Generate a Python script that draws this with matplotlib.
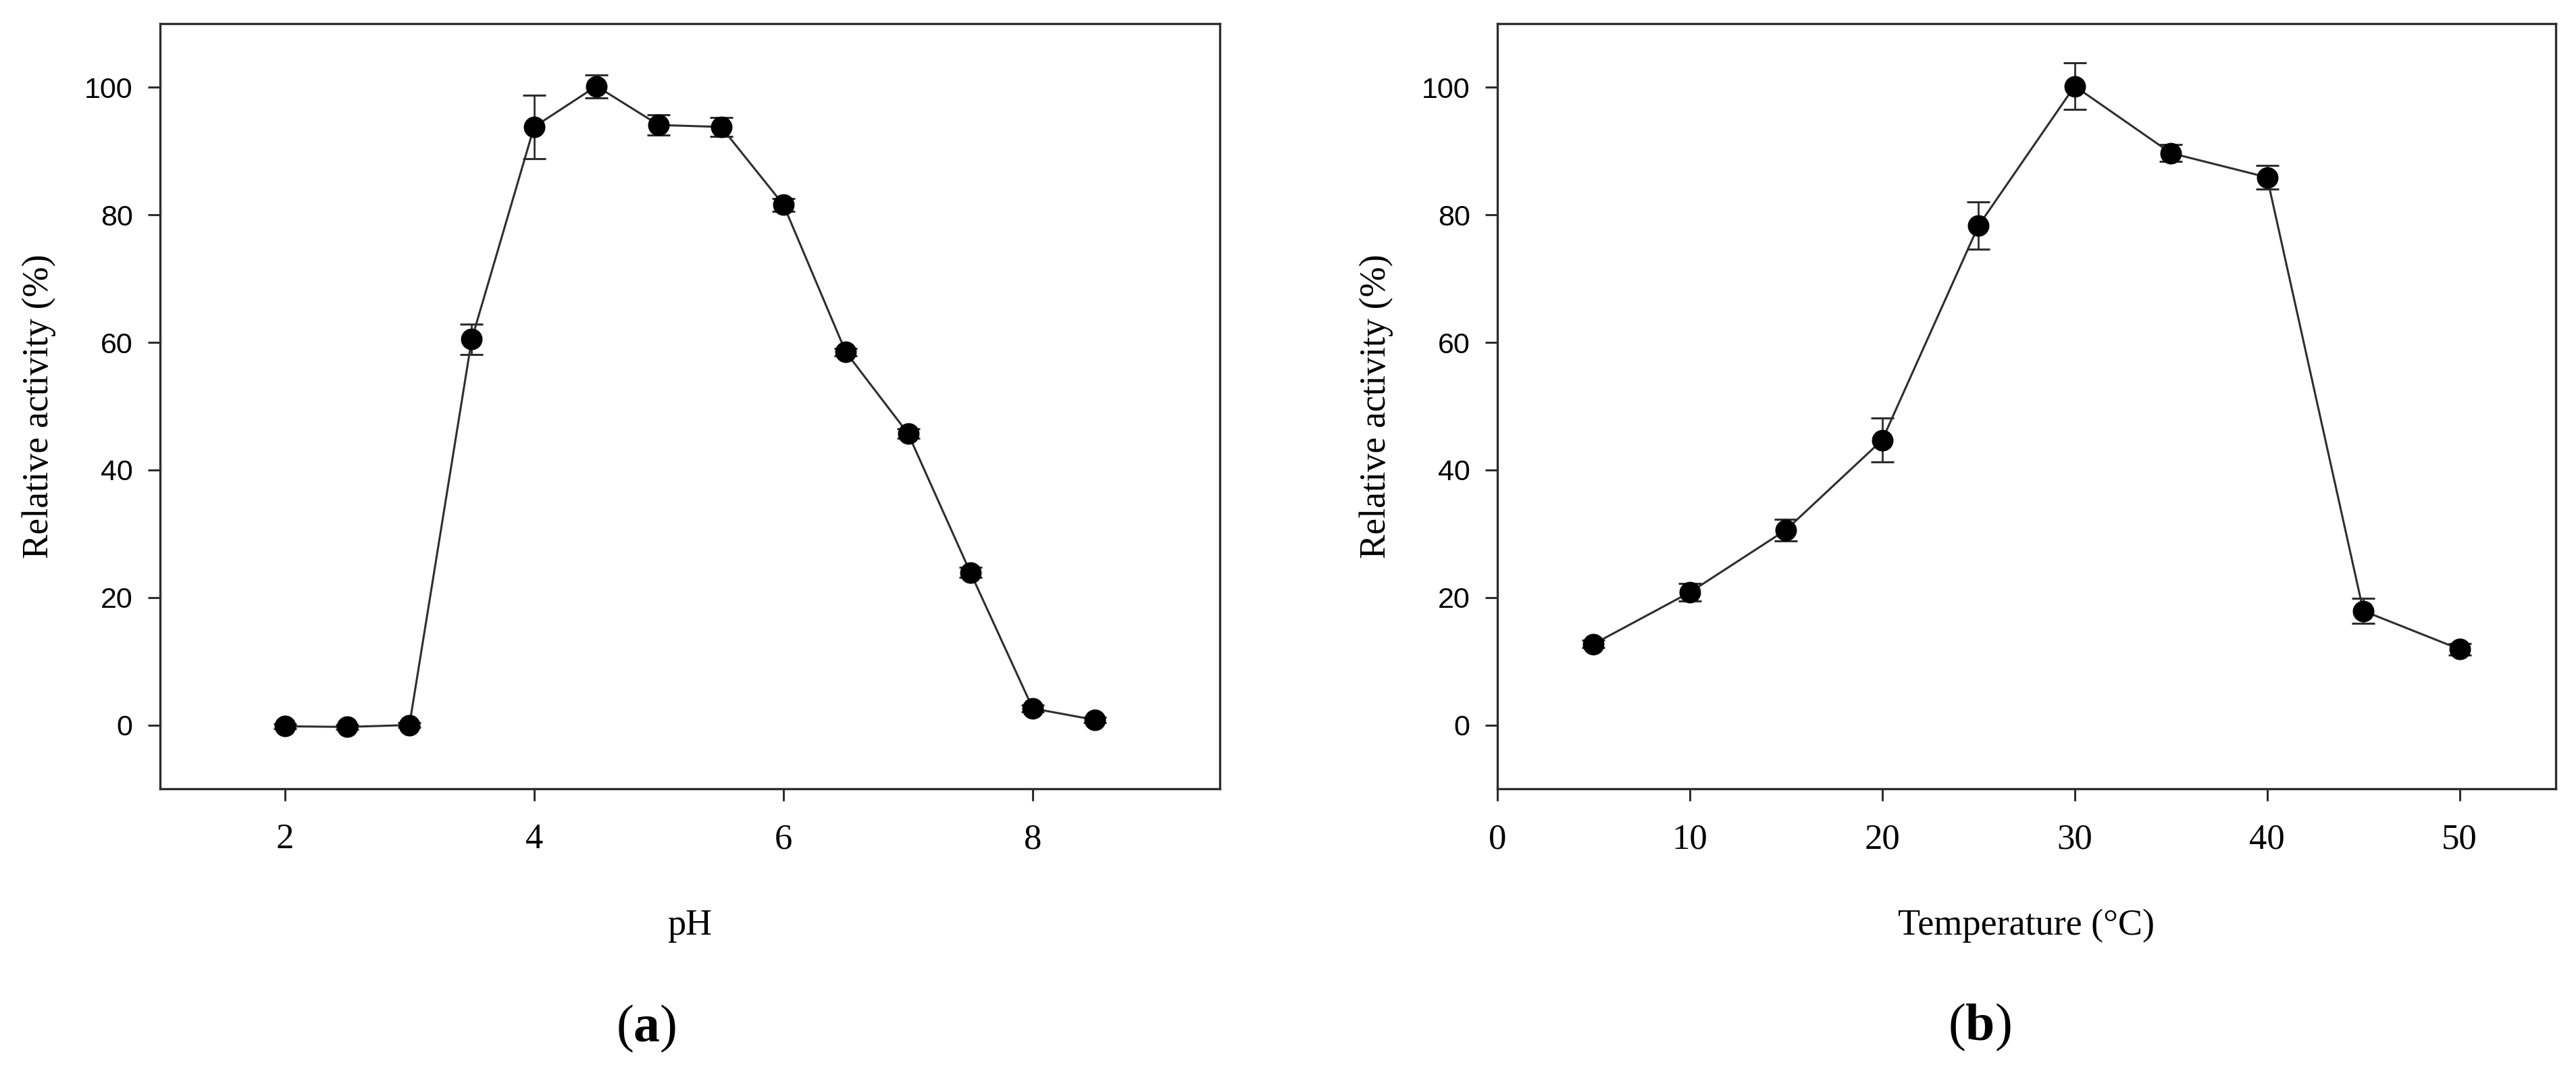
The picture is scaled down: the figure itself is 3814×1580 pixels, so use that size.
import matplotlib
matplotlib.use("Agg")
import matplotlib.pyplot as plt

# pH profile
ph = [2, 2.5, 3, 3.5, 4, 4.5, 5, 5.5, 6, 6.5, 7, 7.5, 8, 8.5]
ph_act = [-0.2, -0.3, 0.0, 60.5, 93.8, 100.2, 94.1, 93.8, 81.6, 58.5, 45.7, 23.9, 2.6, 0.8]
ph_err = [0.4, 0.4, 0.4, 2.4, 5.0, 1.8, 1.6, 1.5, 1.0, 0.6, 0.7, 0.8, 0.5, 0.4]

# temperature profile
temp = [5, 10, 15, 20, 25, 30, 35, 40, 45, 50]
temp_act = [12.7, 20.8, 30.6, 44.7, 78.3, 100.2, 89.7, 85.9, 17.9, 11.9]
temp_err = [0.6, 1.4, 1.7, 3.4, 3.7, 3.7, 1.3, 1.9, 2.0, 0.9]

SERIF = "Liberation Serif"
SANS = "Liberation Sans"
LINE_C = "#2e2e2e"

plt.rcParams["mathtext.fontset"] = "custom"
plt.rcParams["mathtext.rm"] = SERIF
plt.rcParams["mathtext.bf"] = SERIF + ":bold"

fig = plt.figure(figsize=(38.14, 15.8), dpi=100)
ax_a = fig.add_axes([0.06214, 0.26076, 0.41138, 0.71709])
ax_b = fig.add_axes([0.58128, 0.26076, 0.41085, 0.71709])


def style_axes(ax, xlabel):
    for sp in ax.spines.values():
        sp.set_linewidth(2.4)
        sp.set_color(LINE_C)
    ax.set_ylim(-10, 110)
    ax.set_yticks([0, 20, 40, 60, 80, 100])
    ax.tick_params(axis="both", direction="out", length=13, width=2.2,
                   color=LINE_C)
    ax.tick_params(axis="y", pad=16)
    ax.tick_params(axis="x", pad=24)
    for lab in ax.get_yticklabels():
        lab.set_fontfamily(SANS)
        lab.set_fontsize(31)
    for lab in ax.get_xticklabels():
        lab.set_fontfamily(SERIF)
        lab.set_fontsize(38)
    ax.set_ylabel("Relative activity (%)", fontfamily=SERIF, fontsize=39,
                  labelpad=30)
    ax.set_xlabel(xlabel, fontfamily=SERIF, fontsize=39, labelpad=56)


def draw(ax, x, y, err):
    ax.errorbar(x, y, yerr=err, fmt="-o", color=LINE_C, lw=2.2,
                ecolor=LINE_C, elinewidth=2.0, capsize=12, capthick=2.2,
                mfc="black", mec="black", ms=22, zorder=3)


draw(ax_a, ph, ph_act, ph_err)
ax_a.set_xlim(1, 9.5)
ax_a.set_xticks([2, 4, 6, 8])
style_axes(ax_a, "pH")

draw(ax_b, temp, temp_act, temp_err)
ax_b.set_xlim(0, 55)
ax_b.set_xticks([0, 10, 20, 30, 40, 50])
style_axes(ax_b, "Temperature (°C)")

# panel letters
fig.text(957 / 3814, 1 - 1523 / 1580, r"($\mathbf{a}$)", fontfamily=SERIF,
         fontsize=56, ha="center", va="center")
fig.text(2931 / 3814, 1 - 1521 / 1580, r"($\mathbf{b}$)", fontfamily=SERIF,
         fontsize=56, ha="center", va="center")

fig.savefig("out.png", dpi=100, facecolor="white")
